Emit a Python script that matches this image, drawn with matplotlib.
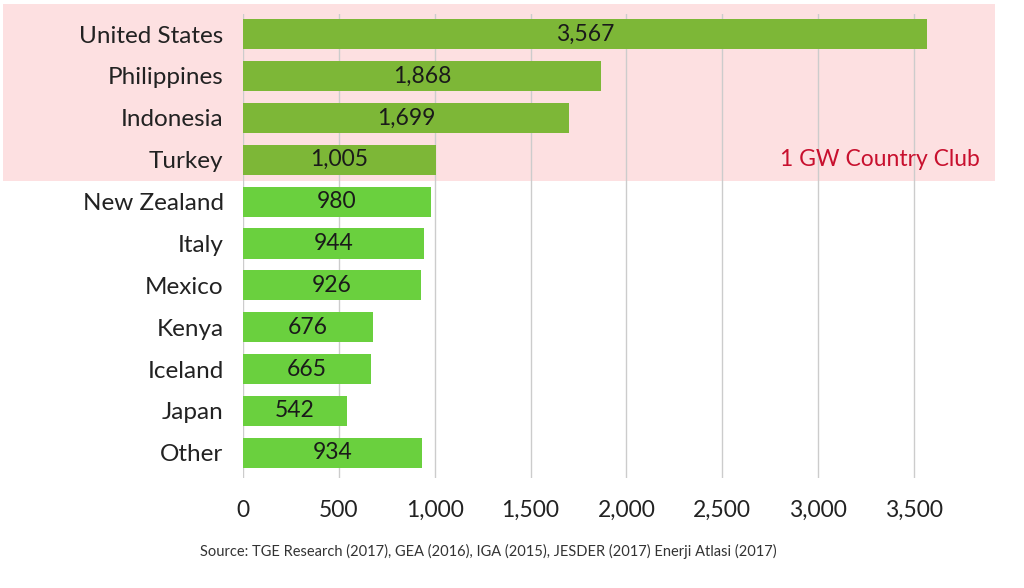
import numpy as np
import matplotlib.pyplot as plt
from matplotlib.patches import Rectangle
from matplotlib.transforms import blended_transform_factory

countries = ["United States", "Philippines", "Indonesia", "Turkey", "New Zealand",
             "Italy", "Mexico", "Kenya", "Iceland", "Japan", "Other"]
capacity = [3567, 1868, 1699, 1005, 980, 944, 926, 676, 665, 542, 934]
club_size = 4  # first four are above 1 GW
xticks = [0, 500, 1000, 1500, 2000, 2500, 3000, 3500]

plt.rcParams['font.family'] = ['Lato', 'DejaVu Sans']

fig = plt.figure(figsize=(10.24, 5.88), dpi=100)
ax = fig.add_axes([243 / 1024, 1 - 478 / 588, (962 - 243) / 1024, (478 - 14) / 588])

y = np.arange(len(countries))
colors = ["#7db737" if i < club_size else "#6ad03e" for i in range(len(countries))]

# pink band behind the 1 GW club
trans = blended_transform_factory(fig.transFigure, ax.transData)
band = Rectangle((3 / 1024, -0.72), 992 / 1024, club_size - 0.5 + 0.72,
                 transform=trans, facecolor="#fde0e1", edgecolor="none", zorder=0)
ax.add_patch(band)
band.set_clip_on(False)

ax.set_facecolor("none")
ax.barh(y, capacity, height=0.72, color=colors, zorder=3)
for yi, v in zip(y, capacity):
    ax.text(v / 2, yi, f"{v:,}", ha="center", va="center", fontsize=16.5,
            color="#1a1a1a", zorder=4)

ax.set_xlim(0, 3750)
ax.set_ylim(10.6, -0.48)
ax.set_yticks(y)
ax.set_yticklabels(countries, fontsize=17.5, color="#222222")
ax.set_xticks(xticks)
ax.set_xticklabels([f"{t:,}" for t in xticks], fontsize=16.5, color="#222222")
ax.tick_params(axis="both", length=0, pad=16)
ax.tick_params(axis="y", pad=14)
ax.grid(axis="x", color="#cccccc", linewidth=1.0, zorder=1)
for s in ax.spines.values():
    s.set_visible(False)

ax.text(0.957, 3.0, "1 GW Country Club", transform=trans, ha="right", va="center",
        fontsize=16.5, color="#c8102e", zorder=5)

fig.text(488 / 1024, 1 - 551 / 588, "Source: TGE Research (2017), GEA (2016), IGA (2015), JESDER (2017) Enerji Atlasi (2017)",
         ha="center", va="center", fontsize=10.5, color="#333333")

fig.savefig("out.png", dpi=100)
